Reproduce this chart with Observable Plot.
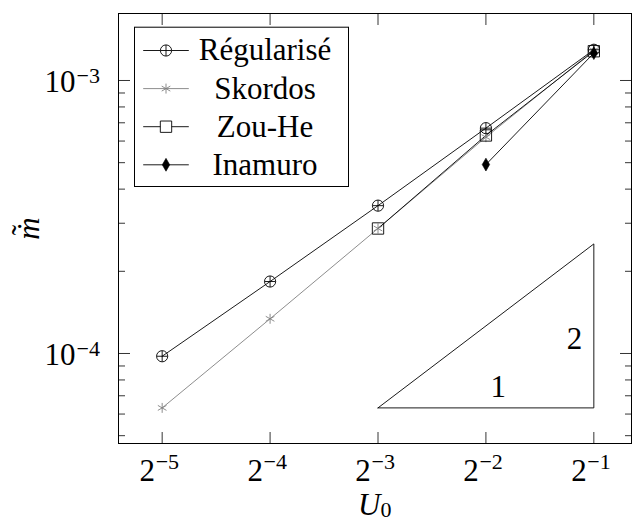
<!DOCTYPE html>
<html>
<head>
<meta charset="utf-8">
<script src="https://cdn.jsdelivr.net/npm/d3@7"></script>
<script src="https://cdn.jsdelivr.net/npm/@observablehq/plot@0.6"></script>
<style>
  html, body { margin: 0; padding: 0; background: #fff; }
  #chart svg { display: block; }
  #chart svg text { font-family: "Liberation Serif", "DejaVu Serif", serif; }
</style>
</head>
<body>
<div id="chart"></div>
<script>
// ---- data ----
const U0 = [1/32, 1/16, 1/8, 1/4, 1/2];
const regularise = [9.77e-5, 1.835e-4, 3.48e-4, 6.69e-4, 1.296e-3];
const skordos    = [6.32e-5, 1.34e-4, 2.87e-4, 6.20e-4, 1.29e-3];
const zouHeU0    = [1/8, 1/4, 1/2];
const zouHe      = [2.87e-4, 6.29e-4, 1.28e-3];
const inamuroU0  = [1/4, 1/2];
const inamuro    = [4.92e-4, 1.26e-3];
const seriesNames = ["Régularisé", "Skordos", "Zou-He", "Inamuro"];
// slope triangle
const triU0 = [1/8, 1/2, 1/2, 1/8];
const triM  = [6.32e-5, 6.32e-5, 2.52e-4, 6.32e-5];
const triLabels = ["1", "2"];
const triLabelU0 = [0.2706, 0.4414];
const triLabelM  = [7.52e-5, 1.132e-4];
// ticks
const xTicks = [1/32, 1/16, 1/8, 1/4, 1/2];
const xTickExp = ["−5", "−4", "−3", "−2", "−1"];
const yMajor = [1e-4, 1e-3];
const yMajorExp = ["−4", "−3"];
const yMinor = [5e-5, 6e-5, 7e-5, 8e-5, 9e-5, 2e-4, 3e-4, 4e-4, 5e-4, 6e-4, 7e-4, 8e-4, 9e-4];

const FONT = "Liberation Serif, DejaVu Serif, serif";
const pts = (xs, ys) => xs.map((x, i) => ({x, y: ys[i]}));
const R = pts(U0, regularise), S = pts(U0, skordos), Z = pts(zouHeU0, zouHe), I = pts(inamuroU0, inamuro);
const T = pts(triU0, triM);
const TL = triLabels.map((t, i) => ({t, x: triLabelU0[i], y: triLabelM[i]}));

const lineSym = {draw(ctx) { ctx.moveTo(-22.8, 0); ctx.lineTo(22.8, 0); }};
const legY = i => 37 + 38.1 * i;
const legX = 47.5;
const plusR = 3.63;
const txt = {fontFamily: FONT, fill: "black", lineAnchor: "middle"};

const marks = [
  // slope triangle
  Plot.line(T, {x: "x", y: "y", stroke: "black", strokeWidth: 0.9}),
  Plot.text(TL, {x: "x", y: "y", text: "t", fontSize: 31, ...txt}),
  // series lines
  Plot.line(S, {x: "x", y: "y", stroke: "#808080", strokeWidth: 0.9}),
  Plot.line(I, {x: "x", y: "y", stroke: "black", strokeWidth: 0.9}),
  Plot.line(Z, {x: "x", y: "y", stroke: "black", strokeWidth: 0.9}),
  Plot.line(R, {x: "x", y: "y", stroke: "black", strokeWidth: 0.9}),
  // markers
  Plot.dot(S, {x: "x", y: "y", symbol: "asterisk", r: 4.7, stroke: "#808080", strokeWidth: 0.9}),
  Plot.dot(Z, {x: "x", y: "y", symbol: "square", r: 6.4, fill: "none", stroke: "black", strokeWidth: 0.9}),
  Plot.dot(I, {x: "x", y: "y", symbol: "diamond", r: 3.9, fill: "black", stroke: "black", strokeWidth: 0.6}),
  Plot.dot(R, {x: "x", y: "y", symbol: "circle", r: 5.6, fill: "none", stroke: "black", strokeWidth: 0.9}),
  Plot.dot(R, {x: "x", y: "y", symbol: "plus", r: plusR, stroke: "black", strokeWidth: 0.9}),
  // frame
  Plot.frame({stroke: "black", strokeWidth: 1}),
  // axis ticks (inward)
  Plot.axisX({anchor: "bottom", ticks: xTicks, tickSize: -11, tickFormat: () => "", label: null, strokeWidth: 0.8}),
  Plot.axisX({anchor: "top", ticks: xTicks, tickSize: -11, tickFormat: () => "", label: null, strokeWidth: 0.8}),
  Plot.axisY({anchor: "left", ticks: yMajor, tickSize: -12, tickFormat: () => "", label: null, strokeWidth: 0.8}),
  Plot.axisY({anchor: "right", ticks: yMajor, tickSize: -12, tickFormat: () => "", label: null, strokeWidth: 0.8}),
  Plot.axisY({anchor: "left", ticks: yMinor, tickSize: -7, tickFormat: () => "", label: null, strokeWidth: 0.8}),
  Plot.axisY({anchor: "right", ticks: yMinor, tickSize: -7, tickFormat: () => "", label: null, strokeWidth: 0.8}),
  // x tick labels 2^{-k}
  Plot.text(xTicks, {x: d => d, frameAnchor: "bottom", text: () => "2", textAnchor: "end", dx: -7.2, dy: 27.8, fontSize: 31, ...txt}),
  Plot.text(xTicks, {x: d => d, frameAnchor: "bottom", text: (d, i) => xTickExp[i], textAnchor: "start", dx: -6.5, dy: 18.3, fontSize: 22, ...txt}),
  // y tick labels 10^{-k}
  Plot.text(yMajor, {y: d => d, frameAnchor: "left", text: () => "10", textAnchor: "end", dx: -43, dy: 1.8, fontSize: 31, ...txt}),
  Plot.text(yMajor, {y: d => d, frameAnchor: "left", text: (d, i) => yMajorExp[i], textAnchor: "start", dx: -42, dy: -4.7, fontSize: 22, ...txt}),
  // axis labels
  Plot.text(["U"], {frameAnchor: "bottom", text: d => d, textAnchor: "end", dx: 5.5, dy: 61.5, fontSize: 31, fontStyle: "italic", ...txt}),
  Plot.text(["0"], {frameAnchor: "bottom", text: d => d, textAnchor: "start", dx: 5.5, dy: 66.5, fontSize: 22, ...txt}),
  Plot.text(["\u1E41"], {frameAnchor: "left", text: d => d, rotate: -90, textAnchor: "middle", dx: -89, dy: 0, fontSize: 31, fontStyle: "italic", ...txt}),
  Plot.text(["\u02DC"], {frameAnchor: "left", text: d => d, rotate: -90, textAnchor: "middle", dx: -95, dy: 1.5, fontSize: 31, ...txt}),
  // legend box
  Plot.frame({insetLeft: 16, insetTop: 13.7, insetRight: 283, insetBottom: 257, fill: "white", stroke: "black", strokeWidth: 1}),
];
// legend rows
seriesNames.forEach((name, i) => {
  const o = {frameAnchor: "top-left", dx: legX, dy: legY(i)};
  const col = i === 1 ? "#808080" : "black";
  marks.push(Plot.dot([name], {...o, symbol: lineSym, stroke: col, strokeWidth: 0.9}));
  if (i === 0) {
    marks.push(Plot.dot([name], {...o, symbol: "circle", r: 5.6, fill: "white", stroke: "black", strokeWidth: 0.9}));
    marks.push(Plot.dot([name], {...o, symbol: "plus", r: plusR, stroke: "black", strokeWidth: 0.9}));
  } else if (i === 1) {
    marks.push(Plot.dot([name], {...o, symbol: "asterisk", r: 4.7, stroke: "#808080", strokeWidth: 0.9}));
  } else if (i === 2) {
    marks.push(Plot.dot([name], {...o, symbol: "square", r: 6.4, fill: "white", stroke: "black", strokeWidth: 0.9}));
  } else {
    marks.push(Plot.dot([name], {...o, symbol: "diamond", r: 3.9, fill: "black", stroke: "black", strokeWidth: 0.6}));
  }
  marks.push(Plot.text([name], {frameAnchor: "top-left", dx: 146.5, dy: legY(i), text: d => d, textAnchor: "middle", fontSize: 31, ...txt}));
});

const chart = Plot.plot({
  width: 632,
  height: 521,
  marginLeft: 118,
  marginTop: 13,
  marginRight: 1,
  marginBottom: 78,
  style: {background: "white", fontFamily: FONT},
  x: {type: "log", base: 2, domain: [Math.pow(2, -5.4046), Math.pow(2, -0.651)]},
  y: {type: "log", domain: [Math.pow(10, -4.3297), Math.pow(10, -2.7546)]},
  marks
});
document.getElementById("chart").appendChild(chart);
</script>
</body>
</html>
